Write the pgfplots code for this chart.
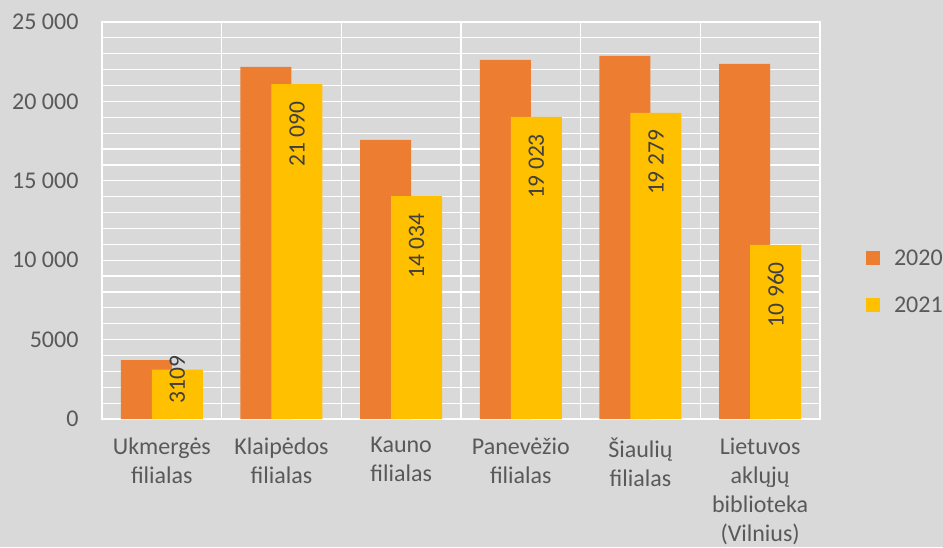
\documentclass[border=0pt]{standalone}
\usepackage{pgfplots}
\pgfplotsset{compat=1.18}
\usepackage{pgfplotstable}
\usepackage{fontspec}
\setmainfont{Carlito}
\definecolor{bg}{HTML}{D9D9D9}
\definecolor{or}{HTML}{ED7D31}
\definecolor{ye}{HTML}{FFC000}
\definecolor{txt}{HTML}{595959}
\definecolor{lbl}{HTML}{404040}

\pgfplotstableread[col sep=comma]{
x,y
0,3715
1,22170
2,17570
3,22610
4,22860
5,22360
}\dataA
\pgfplotstableread[col sep=comma]{
x,y,lab,off
0,3109,3109,14
1,21090,21 090,-17
2,14034,14 034,-17
3,19023,19 023,-17
4,19279,19 279,-17
5,10960,10 960,-17
}\dataB

\begin{document}
\begin{tikzpicture}
\path[use as bounding box, fill=bg] (-102pt,-128pt) rectangle (841pt,419pt);
\begin{axis}[
  at={(0pt,0pt)}, anchor=south west,
  scale only axis, width=718pt, height=397pt,
  xmin=-0.5, xmax=5.5, ymin=0, ymax=25000,
  scaled y ticks=false,
  axis line style={white, line width=1.2pt},
  major tick length=0pt, minor tick length=0pt,
  xtick={0,...,5},
  xticklabels={{Ukmergės\\filialas},{Klaipėdos\\filialas},{Kauno\\filialas},{Panevėžio\\filialas},{Šiaulių\\filialas},{Lietuvos\\aklųjų\\biblioteka\\(Vilnius)}},
  minor xtick={-0.5,0.5,...,5.5},
  xminorgrids=true,
  ytick={0,5000,10000,15000,20000,25000},
  yticklabels={0,5000,10 000,15 000,20 000,25 000},
  minor ytick={1000,2000,3000,4000,6000,7000,8000,9000,11000,12000,13000,14000,16000,17000,18000,19000,21000,22000,23000,24000},
  ymajorgrids=true, yminorgrids=true,
  major grid style={white, line width=1.2pt},
  minor grid style={white, line width=1.2pt},
  tick label style={font=\fontsize{24}{29}\selectfont, text=txt},
  xticklabel style={align=center, yshift=-15pt},
  yticklabel style={xshift=-20pt},
  legend style={at={(axis description cs:1.0641,0.3463)}, anchor=west, draw=none, fill=none,
    inner sep=0pt, outer sep=0pt, font=\fontsize{24}{28}\selectfont, text=txt,
    row sep=30pt, nodes={inner sep=0pt}, legend cell align=left,
    /tikz/every odd column/.append style={column sep=14pt}},
]
\addplot[ybar, fill=or, draw=none, bar width=51pt, bar shift=-15.5pt,
  legend image code/.code={\fill[or] (0pt,-7pt) rectangle (14pt,7pt);}]
  table[x=x, y=y] {\dataA};
\addlegendentry{2020}
\addplot[ybar, fill=ye, draw=none, bar width=51pt, bar shift=15.5pt,
  legend image code/.code={\fill[ye] (0pt,-7pt) rectangle (14pt,7pt);},
  point meta=explicit symbolic,
  visualization depends on={\thisrow{off} \as \off},
  nodes near coords,
  nodes near coords style={xshift=15.5pt, yshift=\off pt, rotate=90, anchor=east, inner xsep=0pt,
    font=\fontsize{23.5}{28}\selectfont, text=lbl}]
  table[x=x, y=y, meta=lab] {\dataB};
\addlegendentry{2021}
\end{axis}
\end{tikzpicture}
\end{document}
